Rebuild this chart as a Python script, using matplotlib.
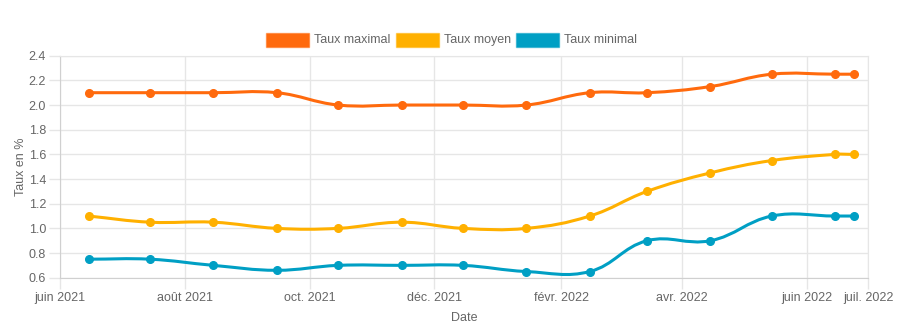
import datetime as dt
import numpy as np
import matplotlib
matplotlib.use("Agg")
import matplotlib.pyplot as plt
import matplotlib.dates as mdates
from matplotlib.path import Path
from matplotlib.patches import PathPatch, Rectangle

plt.rcParams['font.family'] = ['Liberation Sans', 'DejaVu Sans']

# Monthly observations
dates = ["2021-06-15", "2021-07-15", "2021-08-15", "2021-09-15", "2021-10-15",
         "2021-11-15", "2021-12-15", "2022-01-15", "2022-02-15", "2022-03-15",
         "2022-04-15", "2022-05-15", "2022-06-15", "2022-06-24"]
taux_maximal = [2.10, 2.10, 2.10, 2.10, 2.00, 2.00, 2.00, 2.00, 2.10, 2.10, 2.15, 2.25, 2.25, 2.25]
taux_moyen = [1.10, 1.05, 1.05, 1.00, 1.00, 1.05, 1.00, 1.00, 1.10, 1.30, 1.45, 1.55, 1.60, 1.60]
taux_minimal = [0.75, 0.75, 0.70, 0.66, 0.70, 0.70, 0.70, 0.65, 0.65, 0.90, 0.90, 1.10, 1.10, 1.10]

series_labels = ["Taux maximal", "Taux moyen", "Taux minimal"]
series_colors = ["#ff6a0d", "#ffb000", "#009fc4"]

tick_dates = ["2021-06-01", "2021-08-01", "2021-10-01", "2021-12-01",
              "2022-02-01", "2022-04-01", "2022-06-01", "2022-07-01"]
tick_labels = ["juin 2021", "août 2021", "oct. 2021", "déc. 2021",
               "févr. 2022", "avr. 2022", "juin 2022", "juil. 2022"]

W, H = 908, 334
fig = plt.figure(figsize=(W / 100, H / 100), dpi=100)
ax = fig.add_axes([60 / W, 1 - 277.7 / H, 808 / W, 222 / H])

x = mdates.date2num([dt.datetime.fromisoformat(d) for d in dates])
ticks = mdates.date2num([dt.datetime.fromisoformat(d) for d in tick_dates])

ax.set_xlim(ticks[0], ticks[-1])
ax.set_ylim(0.6, 2.4)
ax.set_yticks(np.arange(0.6, 2.41, 0.2))
ax.set_yticklabels([f"{v:.1f}" for v in np.arange(0.6, 2.41, 0.2)])
ax.set_xticks(ticks)
ax.set_xticklabels(tick_labels)

grid_c = "#e6e6e6"
ax.grid(True, color=grid_c, linewidth=1)
ax.set_axisbelow(True)
for side in ["top", "right"]:
    ax.spines[side].set_color(grid_c)
for side in ["left", "bottom"]:
    ax.spines[side].set_color("#d0d0d0")
ax.tick_params(axis="both", colors=grid_c, length=8, width=1, labelcolor="#666666",
               labelsize=9, pad=2)

ax.set_ylabel("Taux en %", color="#666666", fontsize=9)
ax.yaxis.set_label_coords(-33 / 808, 0.5)
ax.set_xlabel("Date", color="#666666", fontsize=9, labelpad=6)


def spline_path(xs, ys, tension=0.4):
    """Smooth curve through points using tension-based cubic Bezier segments."""
    pts = ax.transData.transform(np.column_stack([xs, ys]))
    n = len(pts)
    cp_prev = np.zeros_like(pts)
    cp_next = np.zeros_like(pts)
    for i in range(n):
        p0 = pts[i - 1] if i > 0 else pts[i]
        p1 = pts[i]
        p2 = pts[i + 1] if i < n - 1 else pts[i]
        d01 = np.hypot(*(p1 - p0))
        d12 = np.hypot(*(p2 - p1))
        tot = d01 + d12
        s01 = d01 / tot if tot else 0
        s12 = d12 / tot if tot else 0
        cp_prev[i] = p1 - tension * s01 * (p2 - p0)
        cp_next[i] = p1 + tension * s12 * (p2 - p0)
    verts = [pts[0]]
    codes = [Path.MOVETO]
    for i in range(n - 1):
        verts += [cp_next[i], cp_prev[i + 1], pts[i + 1]]
        codes += [Path.CURVE4] * 3
    verts = ax.transData.inverted().transform(np.array(verts))
    return Path(verts, codes)


fig.canvas.draw()
for vals, color in zip([taux_maximal, taux_moyen, taux_minimal], series_colors):
    ax.add_patch(PathPatch(spline_path(x, vals), facecolor="none", edgecolor=color,
                           linewidth=2.2, zorder=3, capstyle="round", joinstyle="round"))
    ax.plot(x, vals, "o", color=color, markersize=5.5, zorder=4)

# Legend drawn as filled boxes with text
legend_cy = 40 / H
box_w, box_h = 43 / W, 14 / H
positions = [265.5, 395.5, 515.5]
for px, lab, color in zip(positions, series_labels, series_colors):
    fig.patches.append(Rectangle((px / W, 1 - legend_cy - box_h / 2), box_w, box_h,
                                 transform=fig.transFigure, facecolor=color,
                                 edgecolor=matplotlib.colors.to_rgba(color, 0.5),
                                 linewidth=1))
    fig.text((px + 48) / W, 1 - legend_cy, lab, color="#666666", fontsize=9,
             va="center", ha="left")

fig.savefig("out.png", dpi=100)
